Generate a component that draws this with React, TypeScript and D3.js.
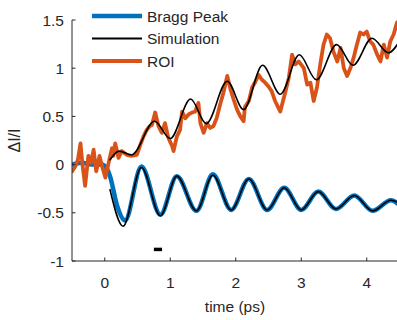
import React from 'react';
import * as d3 from 'd3';

// values (time in ps, ΔI/I)
const braggT = [-0.5, -0.35, -0.2, -0.05, 0.02, 0.08, 0.19, 0.31, 0.56, 0.85, 1.1, 1.4, 1.65, 1.93, 2.2, 2.48, 2.74, 3.0, 3.26, 3.53, 3.81, 4.09, 4.37, 4.5];
const braggV = [0, 0.02, 0.0, 0.0, -0.03, -0.12, -0.43, -0.58, -0.02, -0.52, -0.12, -0.48, -0.1, -0.47, -0.15, -0.47, -0.24, -0.47, -0.28, -0.46, -0.32, -0.48, -0.37, -0.42];

const simBraggT = [0.08, 0.28, 0.56, 0.85, 1.1, 1.4, 1.65, 1.93, 2.2, 2.48, 2.74, 3.0, 3.26, 3.53, 3.81, 4.09, 4.37, 4.5];
const simBraggV = [-0.26, -0.64, -0.03, -0.53, -0.12, -0.48, -0.11, -0.47, -0.15, -0.47, -0.24, -0.47, -0.28, -0.46, -0.32, -0.48, -0.37, -0.4];

const simRoiT = [0.08, 0.22, 0.41, 0.76, 1.0, 1.31, 1.55, 1.87, 2.12, 2.41, 2.68, 2.97, 3.23, 3.54, 3.79, 4.08, 4.33, 4.5];
const simRoiV = [0.05, 0.14, 0.1, 0.45, 0.27, 0.68, 0.425, 0.865, 0.57, 1.03, 0.73, 1.14, 0.88, 1.245, 1.03, 1.31, 1.16, 1.28];

const roiT = [-0.5, -0.45, -0.41, -0.37, -0.34, -0.3, -0.25, -0.21, -0.17, -0.13, -0.08, -0.04, 0.01, 0.06, 0.11, 0.13, 0.16, 0.21, 0.26, 0.34, 0.41, 0.49, 0.54, 0.59, 0.64, 0.69, 0.72, 0.77, 0.82, 0.87, 0.92, 0.97, 1.03, 1.05, 1.1, 1.15, 1.18, 1.23, 1.28, 1.33, 1.38, 1.43, 1.46, 1.51, 1.56, 1.61, 1.66, 1.71, 1.76, 1.81, 1.87, 1.92, 1.97, 2.02, 2.07, 2.12, 2.14, 2.2, 2.25, 2.3, 2.35, 2.4, 2.45, 2.5, 2.55, 2.6, 2.68, 2.76, 2.81, 2.86, 2.91, 2.96, 3.04, 3.09, 3.14, 3.19, 3.24, 3.29, 3.34, 3.39, 3.44, 3.49, 3.55, 3.6, 3.65, 3.7, 3.75, 3.8, 3.85, 3.9, 3.95, 4.0, 4.05, 4.1, 4.16, 4.21, 4.26, 4.31, 4.36, 4.41, 4.46, 4.5];
const roiV = [-0.07, -0.02, 0.05, 0.22, 0.0, -0.22, 0.09, 0.02, 0.155, -0.07, 0.09, -0.02, -0.135, 0.02, 0.17, 0.09, 0.22, 0.07, 0.14, 0.1, 0.09, 0.1, 0.2, 0.29, 0.36, 0.4, 0.41, 0.54, 0.4, 0.33, 0.43, 0.28, 0.19, 0.14, 0.29, 0.36, 0.55, 0.48, 0.52, 0.54, 0.55, 0.64, 0.43, 0.33, 0.43, 0.38, 0.4, 0.485, 0.62, 0.74, 0.92, 0.78, 0.67, 0.57, 0.5, 0.45, 0.6, 0.66, 0.8, 0.86, 0.93, 0.88, 0.85, 0.81, 0.76, 0.66, 0.55, 0.76, 0.9, 1.14, 1.04, 1.07, 1.0, 0.83, 0.85, 0.66, 0.8, 1.04, 1.245, 1.35, 1.31, 1.175, 1.07, 1.21, 1.0, 0.92, 1.0, 1.11, 1.245, 1.37, 1.35, 1.38, 1.28, 1.245, 1.14, 1.07, 1.245, 1.11, 1.28, 1.35, 1.47, 1.5];

// short black bar near the bottom (t range, level)
const barT = [0.75, 0.875];
const barV = -0.88;

const xTicks = [0, 1, 2, 3, 4];
const yTicks = [-1, -0.5, 0, 0.5, 1, 1.5];
const legendItems = ['Bragg Peak', 'Simulation', 'ROI'];

const COLORS = { blue: '#0072BD', orange: '#D95319', black: '#000000', axis: '#262626' };
const FONT = '"Liberation Sans", Arial, Helvetica, sans-serif';

const W = 397;
const H = 320;
const margin = { left: 72, top: 20, bottom: 261 };

const App: React.FC = () => {
  const x = d3.scaleLinear().domain([-0.5, 4.5]).range([margin.left, 399.5]);
  const y = d3.scaleLinear().domain([-1, 1.5]).range([margin.bottom, margin.top]);

  const mk = (ts: number[], vs: number[], curve: d3.CurveFactory) =>
    d3
      .line<number>()
      .x((t) => x(t))
      .y((_, i) => y(vs[i]))
      .curve(curve)(ts) || '';

  const braggPath = mk(braggT, braggV, d3.curveMonotoneX);
  const simBraggPath = mk(simBraggT, simBraggV, d3.curveMonotoneX);
  const simRoiPath = mk(simRoiT, simRoiV, d3.curveMonotoneX);
  const roiPath = mk(roiT, roiV, d3.curveLinear);

  const legendColors = [COLORS.blue, COLORS.black, COLORS.orange];
  const legendWidths = [4.5, 1.8, 4];

  return (
    <div style={{ position: 'fixed', left: 0, top: 0 }}>
      <svg width={W} height={H} style={{ display: 'block', background: '#fff' }}>
        <defs>
          <clipPath id="plotClip">
            <rect x={margin.left} y={margin.top - 2} width={W - margin.left} height={margin.bottom - margin.top + 2} />
          </clipPath>
        </defs>

        <g clipPath="url(#plotClip)" fill="none" strokeLinejoin="round" strokeLinecap="round">
          <path d={braggPath} stroke={COLORS.blue} strokeWidth={4.5} />
          <path d={roiPath} stroke={COLORS.orange} strokeWidth={3.8} />
          <path d={simRoiPath} stroke={COLORS.black} strokeWidth={1.6} />
          <path d={simBraggPath} stroke={COLORS.black} strokeWidth={1.6} />
          <line x1={x(barT[0])} x2={x(barT[1])} y1={y(barV)} y2={y(barV)} stroke={COLORS.black} strokeWidth={3.5} strokeLinecap="butt" />
        </g>

        {/* axes */}
        <line x1={margin.left} x2={margin.left} y1={margin.top} y2={margin.bottom} stroke={COLORS.axis} strokeWidth={1} />
        <line x1={margin.left} x2={W} y1={margin.bottom} y2={margin.bottom} stroke={COLORS.axis} strokeWidth={1} />

        {yTicks.map((t) => (
          <g key={'y' + t}>
            <line x1={margin.left} x2={margin.left + 3.5} y1={y(t)} y2={y(t)} stroke={COLORS.axis} />
            <text x={margin.left - 8} y={y(t)} dy="0.36em" textAnchor="end" fontFamily={FONT} fontSize={15.5} fill={COLORS.axis}>
              {t}
            </text>
          </g>
        ))}
        {xTicks.map((t) => (
          <g key={'x' + t}>
            <line x1={x(t)} x2={x(t)} y1={margin.bottom} y2={margin.bottom - 3.5} stroke={COLORS.axis} />
            <text x={x(t)} y={288} textAnchor="middle" fontFamily={FONT} fontSize={15.5} fill={COLORS.axis}>
              {t}
            </text>
          </g>
        ))}

        <text x={235} y={312} textAnchor="middle" fontFamily={FONT} fontSize={15.5} fill={COLORS.axis}>
          time (ps)
        </text>
        <text
          transform={`translate(20, ${(margin.top + margin.bottom) / 2}) rotate(-90)`}
          textAnchor="middle"
          fontFamily={FONT}
          fontSize={16}
          fill={COLORS.axis}
        >
          ΔI/I
        </text>

        {/* legend */}
        {legendItems.map((name, i) => (
          <g key={name} transform={`translate(92, ${16 + i * 22.5})`}>
            <line x1={0} x2={50} y1={0} y2={0} stroke={legendColors[i]} strokeWidth={legendWidths[i]} />
            <text x={55} y={0} dy="0.36em" fontFamily={FONT} fontSize={15.5} fill={COLORS.axis}>
              {name}
            </text>
          </g>
        ))}
      </svg>
    </div>
  );
};

export default App;
